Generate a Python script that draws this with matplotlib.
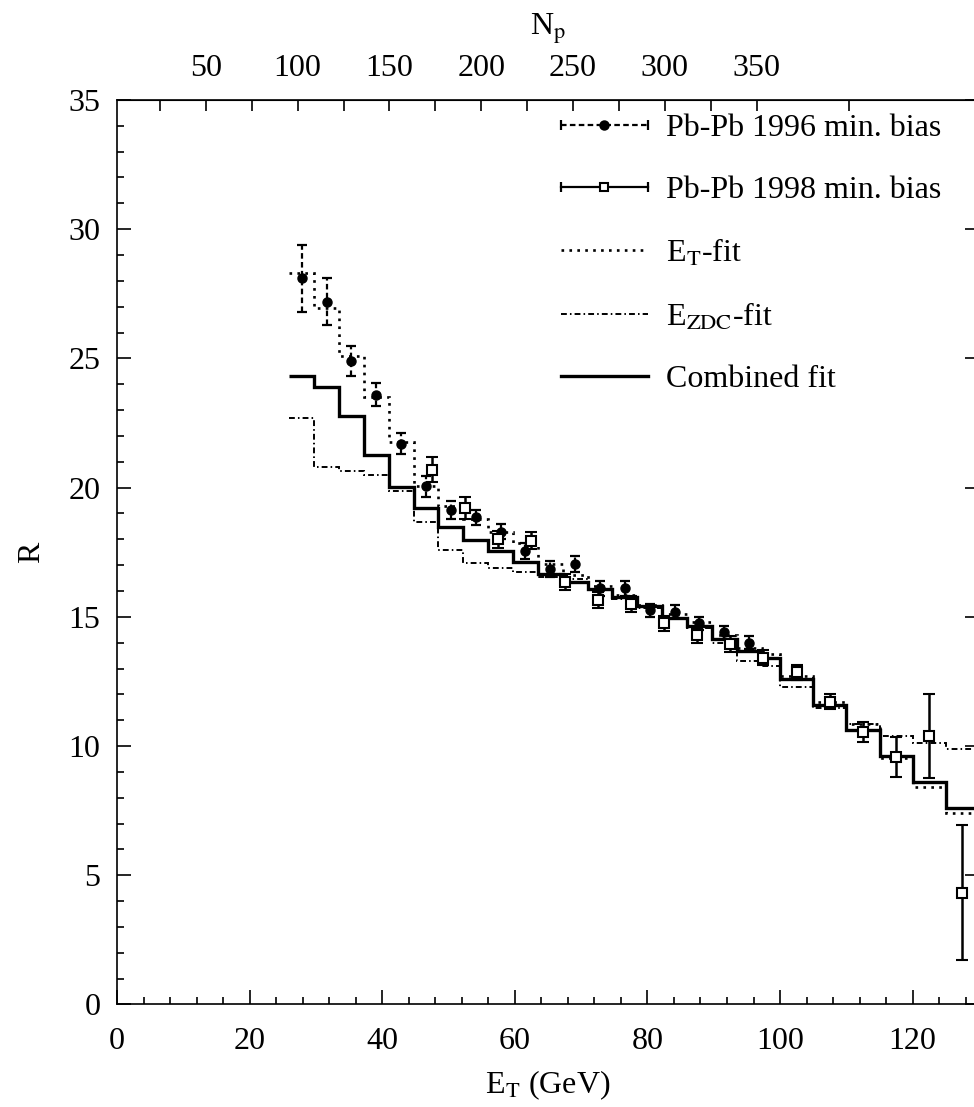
import matplotlib
matplotlib.use("Agg")
import matplotlib.pyplot as plt
from matplotlib.legend_handler import HandlerBase
from matplotlib.lines import Line2D
from matplotlib.ticker import MultipleLocator

plt.rcParams["font.family"] = ["Liberation Serif", "DejaVu Serif"]
plt.rcParams["mathtext.fontset"] = "stix"

# --- data ---
# Pb-Pb 1996 min. bias
et96 = [27.85, 31.6, 35.35, 39.1, 42.85, 46.6, 50.35, 54.1, 57.85, 61.6,
        65.35, 69.1, 72.85, 76.6, 80.35, 84.1, 87.85, 91.6, 95.35]
r96 = [28.1, 27.2, 24.9, 23.6, 21.7, 20.05, 19.15, 18.85, 18.3, 17.55,
       16.85, 17.05, 16.1, 16.1, 15.25, 15.2, 14.75, 14.4, 14.0]
err96 = [1.3, 0.9, 0.58, 0.45, 0.4, 0.4, 0.35, 0.3, 0.3, 0.3,
         0.3, 0.3, 0.3, 0.3, 0.25, 0.25, 0.25, 0.25, 0.25]

# Pb-Pb 1998 min. bias
et98 = [47.5, 52.5, 57.5, 62.5, 67.5, 72.5, 77.5, 82.5, 87.5, 92.5,
        97.5, 102.5, 107.5, 112.5, 117.5, 122.5, 127.5]
r98 = [20.7, 19.2, 18.0, 17.95, 16.35, 15.65, 15.5, 14.75, 14.28, 13.95,
       13.42, 12.85, 11.72, 10.55, 9.57, 10.4, 4.33]
err98 = [0.5, 0.42, 0.33, 0.33, 0.3, 0.3, 0.3, 0.3, 0.3, 0.3,
         0.3, 0.3, 0.3, 0.39, 0.77, 1.62, 2.6]

# fit histograms (bin edges and values)
fit_edges = [25.975, 29.725, 33.475, 37.225, 40.975, 44.725, 48.475, 52.225,
             55.975, 59.725, 63.475, 67.225, 70.975, 74.725, 78.475, 82.225,
             85.975, 89.725, 93.475, 97.225, 100, 105, 110, 115, 120, 125, 130]
fit_et = [28.3, 26.96, 25.1, 23.52, 21.78, 20.05, 19.3, 18.78, 18.3, 17.85,
          17.05, 16.6, 16.2, 15.85, 15.45, 15.1, 14.8, 14.3, 13.8, 13.55,
          12.71, 11.72, 10.85, 9.53, 8.43, 7.4]
fit_zdc = [22.71, 20.81, 20.66, 20.47, 19.85, 18.68, 17.58, 17.07, 16.88, 16.73,
           16.56, 16.45, 16.05, 15.7, 15.35, 14.95, 14.55, 14.0, 13.3, 13.1,
           12.27, 11.46, 10.85, 10.39, 10.1, 9.9]
fit_comb = [24.3, 23.9, 22.77, 21.26, 20.04, 19.2, 18.47, 17.96, 17.56, 17.14,
            16.65, 16.36, 16.07, 15.76, 15.4, 14.95, 14.65, 14.13, 13.69, 13.4,
            12.58, 11.59, 10.62, 9.6, 8.6, 7.59]

# top axis: number of participants
np_ticks = [25, 50, 75, 100, 125, 150, 175, 200, 225, 250, 275, 300, 325, 350, 400]
np_labels = ["", "50", "", "100", "", "150", "", "200", "", "250", "", "300", "", "350", ""]
NP_SLOPE = 3.611
NP_OFFSET = 1.6

FS = 23
DOT = (0, (1, 2))
DASHDOT = (0, (3, 1.6, 0.8, 1.6))
DASH = (0, (2.5, 1.5))


class ErrHandler(HandlerBase):
    """legend key like gnuplot's: horizontal bar with caps and a marker"""

    def __init__(self, ls, marker, mfc):
        super().__init__()
        self.ls, self.marker, self.mfc = ls, marker, mfc

    def create_artists(self, legend, orig_handle, xdescent, ydescent,
                       width, height, fontsize, trans):
        y = height / 2 - ydescent
        x0, x1 = -xdescent, width - xdescent
        bar = Line2D([x0, x1], [y, y], color="k", lw=1.6, ls=self.ls, transform=trans)
        caps = Line2D([x0, x1], [y, y], color="k", ls="none", marker="|",
                      ms=7, mew=1.6, transform=trans)
        mk = Line2D([(x0 + x1) / 2], [y], color="k", ls="none", marker=self.marker,
                    ms=6, mfc=self.mfc, mew=1.5, transform=trans)
        return [bar, caps, mk]


fig = plt.figure(figsize=(9.74, 11.07), dpi=100)
ax = fig.add_axes([0.1201, 0.0926, 0.8850, 0.8171])

ax.stairs(fit_et, fit_edges, baseline=None, color="k", lw=1.9, ls=DOT)
ax.stairs(fit_zdc, fit_edges, baseline=None, color="k", lw=1.4, ls=DASHDOT)
ax.stairs(fit_comb, fit_edges, baseline=None, color="k", lw=2.4)

e96 = ax.errorbar(et96, r96, yerr=err96, fmt="o", color="k", ms=6.5,
                  capsize=3.5, capthick=1.6, elinewidth=1.6, zorder=4)
e96[2][0].set_linestyle(DASH)

e98 = ax.errorbar(et98, r98, yerr=err98, fmt="s", color="k", ms=7, mfc="white",
                  mew=1.5, capsize=4, capthick=1.8, elinewidth=1.8, zorder=5)

ax.set_xlim(0, 130)
ax.set_ylim(0, 35)
ax.xaxis.set_major_locator(MultipleLocator(20))
ax.xaxis.set_minor_locator(MultipleLocator(4))
ax.yaxis.set_major_locator(MultipleLocator(5))
ax.yaxis.set_minor_locator(MultipleLocator(1))
ax.tick_params(which="both", direction="in", top=False, right=True,
               labelsize=FS, width=1.2, pad=12)
ax.tick_params(which="minor", right=False)
ax.tick_params(axis="x", pad=16)
ax.tick_params(which="major", length=10)
ax.tick_params(which="minor", length=5)
for s in ax.spines.values():
    s.set_linewidth(1.2)

ax.set_xlabel(r"E$_\mathrm{T}$ (GeV)", fontsize=FS, labelpad=9)
ax.set_ylabel("R", fontsize=FS, labelpad=16)

top = ax.secondary_xaxis("top", functions=(lambda e: NP_SLOPE * e + NP_OFFSET,
                                           lambda n: (n - NP_OFFSET) / NP_SLOPE))
top.set_xticks(np_ticks)
top.set_xticklabels(np_labels)
top.tick_params(direction="in", length=8, width=1.2, labelsize=FS, pad=12)
top.set_xlabel(r"N$_\mathrm{p}$", fontsize=FS, labelpad=14)

handles = [
    e96, e98,
    Line2D([], [], color="k", lw=1.9, ls=DOT),
    Line2D([], [], color="k", lw=1.4, ls=DASHDOT),
    Line2D([], [], color="k", lw=2.4),
]
labels = ["Pb-Pb 1996 min. bias", "Pb-Pb 1998 min. bias",
          r"E$_\mathrm{T}$-fit", r"E$_\mathrm{ZDC}$-fit", "Combined fit"]
ax.legend(handles, labels, loc="upper left", bbox_to_anchor=(0.515, 0.985),
          frameon=False, fontsize=FS, handlelength=2.72, handletextpad=0.58,
          labelspacing=1.02, borderpad=0, borderaxespad=0,
          handler_map={e96: ErrHandler(DASH, "o", "k"),
                       e98: ErrHandler("-", "s", "white")})

fig.savefig("out.png", dpi=100)
